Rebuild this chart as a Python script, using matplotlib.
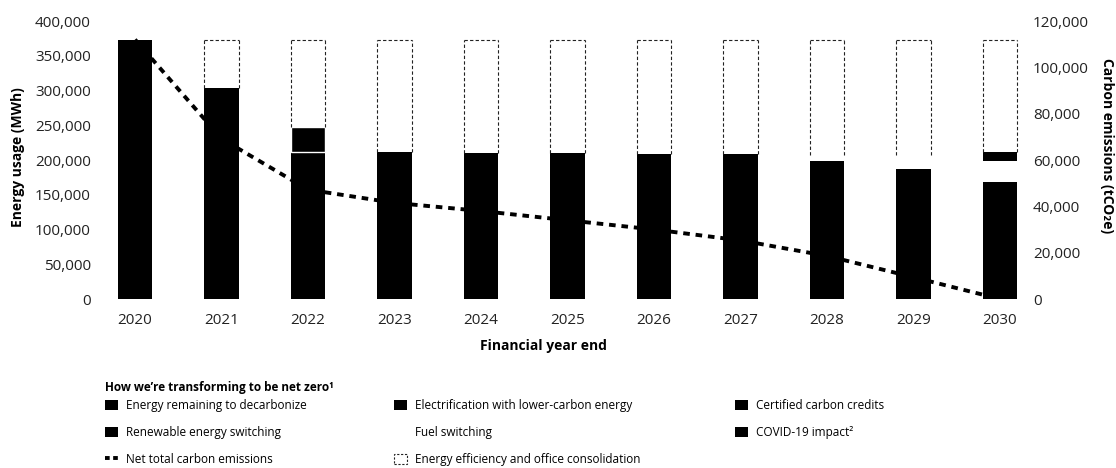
import numpy as np
import matplotlib
matplotlib.use("Agg")
import matplotlib.pyplot as plt
from matplotlib.patches import Patch
from matplotlib.lines import Line2D
from matplotlib.ticker import FuncFormatter

plt.rcParams['font.family'] = ['Open Sans', 'DejaVu Sans']

years = ['2020', '2021', '2022', '2023', '2024', '2025', '2026', '2027', '2028', '2029', '2030']

# energy usage by driver, MWh (stacked bottom to top)
remaining = [372000, 231000, 211000, 211000, 210000, 209500, 195500, 181000, 155500, 133000, 168800]
renewable = [0, 0, 0, 0, 0, 0, 13100, 27600, 43100, 54000, 0]
electrification = [0, 0, 0, 0, 0, 0, 0, 0, 0, 0, 0]
covid = [0, 72000, 36000, 0, 0, 0, 0, 0, 0, 0, 0]
fuel = [0, 0, 0, 0, 0, 0, 0, 0, 8600, 20000, 29800]
credits = [0, 0, 0, 0, 0, 0, 0, 0, 0, 0, 13400]
efficiency = [0, 69000, 125000, 161000, 162000, 162500, 163400, 163400, 164800, 165000, 160000]

# net total carbon emissions, tCO2e
net_emissions = [112000, 69200, 47200, 41500, 38000, 34000, 30000, 25300, 18600, 9400, 0]

x = np.arange(len(years))
w = 0.4

fig = plt.figure(figsize=(11.16, 4.68), dpi=100)
ax = fig.add_axes([0.09, 0.3611, 0.8332, 0.594])
ax2 = ax.twinx()
ax.set_zorder(2)
ax2.set_zorder(1)
ax.patch.set_visible(False)

# emissions line sits behind the bars
ax2.plot(x, net_emissions, color='black', lw=2.8, linestyle=(0, (1.7, 1.5)),
         dash_capstyle='butt')

bottom = np.zeros(len(years))
covid_lw = [0, 0, 1.0, 0, 0, 0, 0, 0, 0, 0, 0]
for vals, fc, ec, lw in [(remaining, 'black', 'none', 0),
                         (renewable, 'black', 'none', 0),
                         (electrification, 'black', 'none', 0),
                         (covid, 'black', 'white', covid_lw),
                         (fuel, 'white', 'none', 0),
                         (credits, 'black', 'none', 0)]:
    vals = np.array(vals)
    ax.bar(x, vals, w, bottom=bottom, color=fc, edgecolor=ec, linewidth=lw)
    bottom += vals

# energy efficiency shown as open dashed boxes above the stack
eff = np.array(efficiency)
has = eff > 0
top = bottom + eff
dash = dict(colors='#222222', linewidth=0.8, linestyles=(0, (3, 2)))
ax.vlines(x[has] - w / 2, bottom[has], top[has], **dash)
ax.vlines(x[has] + w / 2, bottom[has], top[has], **dash)
ax.hlines(top[has], x[has] - w / 2, x[has] + w / 2, **dash)

ax.set_xlim(-0.4, 10.35)
ax.set_ylim(0, 400000)
ax2.set_ylim(0, 120000)
ax.set_xticks(x)
ax.set_xticklabels(years)
ax.set_yticks(np.arange(0, 400001, 50000))
ax2.set_yticks(np.arange(0, 120001, 20000))
fmt = FuncFormatter(lambda v, p: f'{v:,.0f}')
ax.yaxis.set_major_formatter(fmt)
ax2.yaxis.set_major_formatter(fmt)

for a in (ax, ax2):
    for s in a.spines.values():
        s.set_visible(False)
ax.tick_params(axis='y', length=0, pad=7, labelsize=11, labelcolor='#222222')
ax.tick_params(axis='x', length=0, pad=10, labelsize=11, labelcolor='#222222')
ax2.tick_params(axis='y', length=0, pad=2, labelsize=11, labelcolor='#222222')

fig.text(18 / 1116, 1 - 157 / 468, 'Energy usage (MWh)', rotation=90,
         ha='center', va='center', fontsize=10, fontweight='bold')
fig.text(1107 / 1116, 1 - 146 / 468, 'Carbon emissions (tCO₂e)', rotation=270,
         ha='center', va='center', fontsize=10, fontweight='bold')
fig.text(543 / 1116, 1 - 346 / 468, 'Financial year end',
         ha='center', va='center', fontsize=10, fontweight='bold')

fig.text(105 / 1116, 1 - 387 / 468, 'How we’re transforming to be net zero¹',
         ha='left', va='center', fontsize=8.5, fontweight='bold')

black = Patch(facecolor='black', edgecolor='none')
columns = [
    ([black, black, Line2D([], [], color='black', lw=2.8, linestyle=(0, (1.2, 0.9)))],
     ['Energy remaining to decarbonize', 'Renewable energy switching',
      'Net total carbon emissions'], 105),
    ([black, Patch(facecolor='none', edgecolor='none'),
      Patch(facecolor='white', edgecolor='#222222', linestyle=(0, (2, 1.5)), linewidth=0.8)],
     ['Electrification with lower-carbon energy', 'Fuel switching',
      'Energy efficiency and office consolidation'], 394),
    ([black, black],
     ['Certified carbon credits', 'COVID-19 impact²'], 735),
]
for handles, labels, px in columns:
    fig.legend(handles, labels, loc='upper left',
               bbox_to_anchor=(px / 1116, 1 - 399 / 468),
               frameon=False, fontsize=8.5, borderpad=0, borderaxespad=0,
               handlelength=1.1, handleheight=1.0, handletextpad=0.7,
               labelspacing=1.18)

fig.savefig('out.png', dpi=100)
